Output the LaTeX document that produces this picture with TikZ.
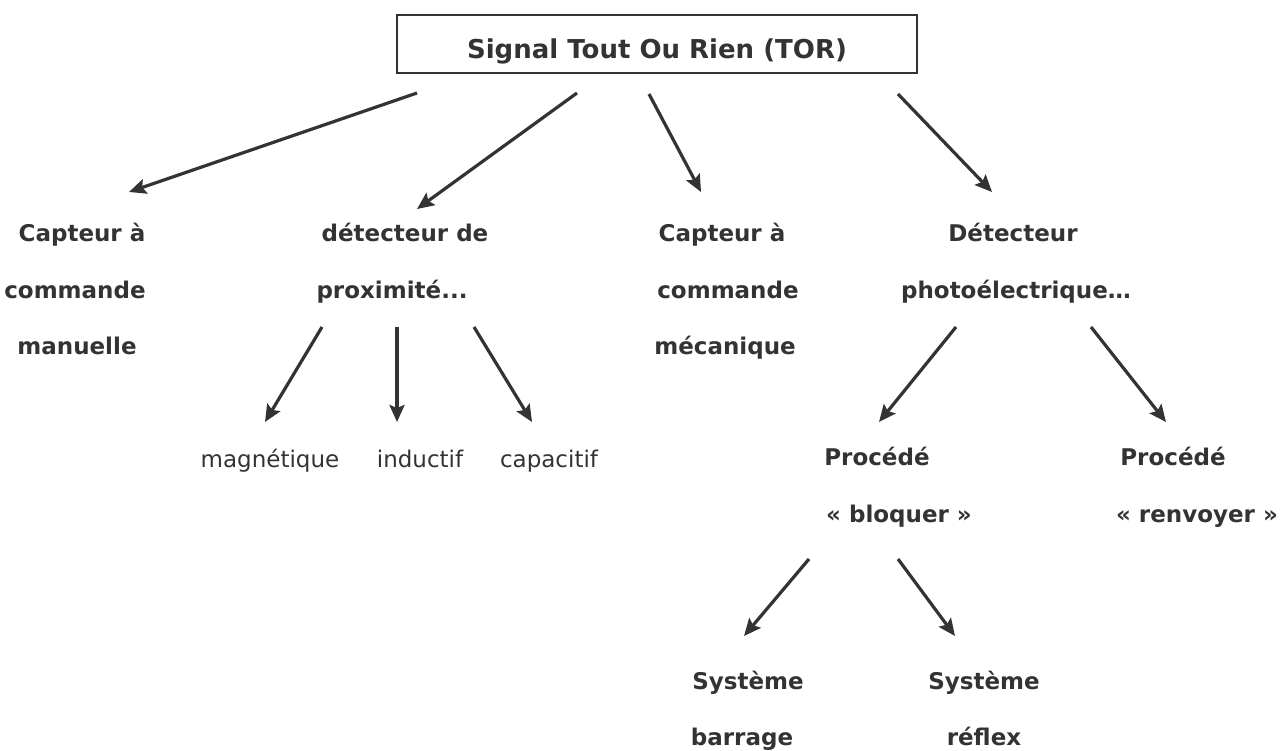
\documentclass[tikz,border=0pt]{standalone}
\usepackage{fontspec}
\setmainfont{DejaVu Sans}
\usetikzlibrary{arrows.meta}
\definecolor{encre}{HTML}{333333}
\tikzset{
  gras/.style={font=\bfseries\fontsize{23}{26}\selectfont, text=encre, inner sep=0pt, anchor=base},
  maigre/.style={font=\fontsize{23}{26}\selectfont, text=encre, inner sep=0pt, anchor=base},
  fleche/.style={-{Stealth[length=17pt,width=15pt,inset=3pt]}, line width=3.2pt, draw=encre},
}
\begin{document}
\begin{tikzpicture}[x=1pt,y=-1pt]
    \useasboundingbox (0,0) rectangle (1285,751);
    % titre
    \draw[encre,line width=1.2pt] (397,15) rectangle (917,73);
    \node[gras,font=\bfseries\fontsize{26}{30}\selectfont] (tor) at (657,59) {Signal Tout Ou Rien (TOR)};
    % premier niveau
    \node[gras] (man1) at (82,242) {Capteur à};
    \node[gras] (man2) at (75,299) {commande};
    \node[gras] (man3) at (77,354) {manuelle};
    \node[gras] (prox1) at (405,242) {détecteur de};
    \node[gras] (prox2) at (392,299) {proximité...};
    \node[gras] (meca1) at (722,242) {Capteur à};
    \node[gras] (meca2) at (728,299) {commande};
    \node[gras] (meca3) at (725,354) {mécanique};
    \node[gras] (photo1) at (1013,242) {Détecteur};
    \node[gras] (photo2) at (1016,299) {photoélectrique…};
    % proximite
    \node[maigre] (magn) at (270,467) {magnétique};
    \node[maigre] (induc) at (420,467) {inductif};
    \node[maigre] (capa) at (549,467) {capacitif};
    % photoelectrique
    \node[gras] (bloq1) at (877,465) {Procédé};
    \node[gras] (bloq2) at (899,522) {« bloquer »};
    \node[gras] (renv1) at (1173,465) {Procédé};
    \node[gras] (renv2) at (1197,522) {« renvoyer »};
    \node[gras] (barr1) at (748,689) {Système};
    \node[gras] (barr2) at (742,745) {barrage};
    \node[gras] (refl1) at (984,689) {Système};
    \node[gras] (refl2) at (984,745) {réflex};
    % extremites des fleches
    \coordinate (a1) at (417,93);  \coordinate (b1) at (129,192);
    \coordinate (a2) at (577,93);  \coordinate (b2) at (417,209);
    \coordinate (a3) at (649,94);  \coordinate (b3) at (701,192);
    \coordinate (a4) at (898,94);  \coordinate (b4) at (992,192);
    \coordinate (a5) at (322,327); \coordinate (b5) at (265,422);
    \coordinate (a6) at (397,327); \coordinate (b6) at (397,422);
    \coordinate (a7) at (474,327); \coordinate (b7) at (532,422);
    \coordinate (a8) at (956,327); \coordinate (b8) at (879,422);
    \coordinate (a9) at (1091,327);\coordinate (b9) at (1166,422);
    \coordinate (a10) at (809,559);\coordinate (b10) at (744,636);
    \coordinate (a11) at (898,559);\coordinate (b11) at (955,636);
    \foreach \i in {1,...,11}
        \draw[fleche] (a\i)--(b\i);
\end{tikzpicture}
\end{document}
